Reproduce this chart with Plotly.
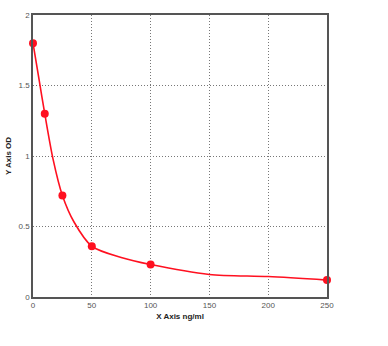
import plotly.graph_objects as go

conc = [0, 10, 25, 50, 100, 250]
od = [1.80, 1.30, 0.72, 0.36, 0.23, 0.12]

curve_x = [0, 5, 10, 17, 25, 35, 50, 75, 100, 150, 200, 250]
curve_y = [1.80, 1.55, 1.30, 0.98, 0.72, 0.53, 0.36, 0.28, 0.23, 0.16, 0.145, 0.12]

x_ticks = [0, 50, 100, 150, 200, 250]
y_ticks = [0, 0.5, 1, 1.5, 2]
y_labels = ["0", "0.5", "1", "1.5", "2"]

fig = go.Figure()
fig.add_trace(go.Scatter(x=curve_x, y=curve_y, mode="lines",
                         line=dict(color="#ff1020", width=1.6, shape="spline", smoothing=0.8),
                         hoverinfo="skip", cliponaxis=False))
fig.add_trace(go.Scatter(x=conc, y=od, mode="markers", cliponaxis=False,
                         marker=dict(color="#ff1020", size=8, symbol="circle")))

axis_common = dict(showline=True, linecolor="#555555", linewidth=1.5, mirror=True,
                   showgrid=True, gridcolor="#777777", griddash="1px,2px", gridwidth=1,
                   zeroline=False, ticks="", automargin=False,
                   tickfont=dict(family="Arial", size=8, color="#555555"))

fig.update_xaxes(range=[0, 250], tickvals=x_ticks, ticktext=[str(v) for v in x_ticks],
                 title=dict(text="<b>X Axis ng/ml</b>", font=dict(family="Arial", size=8, color="#222222"), standoff=4),
                 **axis_common)
fig.update_yaxes(range=[0, 2], tickvals=y_ticks, ticktext=y_labels,
                 title=dict(text="<b>Y Axis OD</b>", font=dict(family="Arial", size=8, color="#222222"), standoff=6),
                 **axis_common)

fig.update_layout(width=388, height=346, showlegend=False,
                  margin=dict(l=33, r=61, t=15, b=49),
                  paper_bgcolor="white", plot_bgcolor="white")

fig.write_html("out.html")
